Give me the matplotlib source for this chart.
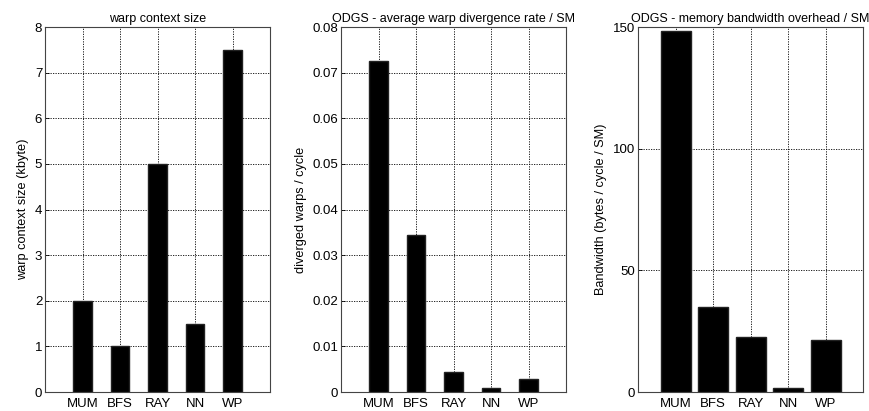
import numpy as np
import matplotlib
matplotlib.use("Agg")
import matplotlib.pyplot as plt

plt.rcParams["font.family"] = ["Liberation Sans", "DejaVu Sans"]

benchmarks = ["MUM", "BFS", "RAY", "NN", "WP"]
context_size = [2.0, 1.0, 5.0, 1.5, 7.5]
divergence_rate = [0.0725, 0.0344, 0.0044, 0.0008, 0.0029]
bandwidth = [148.5, 35.0, 22.7, 1.6, 21.3]

fig = plt.figure(figsize=(8.69, 4.11), dpi=100)

panels = [
    (0.0518, context_size, "warp context size", "warp context size (kbyte)",
     np.arange(0, 9, 1), [str(v) for v in range(9)], (0, 8), 0.5),
    (0.3924, divergence_rate, "ODGS - average warp divergence rate / SM", "diverged warps / cycle",
     np.arange(0, 0.081, 0.01), ["0", "0.01", "0.02", "0.03", "0.04", "0.05", "0.06", "0.07", "0.08"],
     (0, 0.08), 0.5),
    (0.7342, bandwidth, "ODGS - memory bandwidth overhead / SM", "Bandwidth (bytes / cycle / SM)",
     [0, 50, 100, 150], ["0", "50", "100", "150"], (0, 150), 0.8),
]

x = np.arange(1, 6)
for left, vals, title, ylabel, yt, ytl, ylim, w in panels:
    ax = fig.add_axes([left, 0.046, 0.259, 0.888])
    ax.bar(x, vals, width=w, color="black", edgecolor="#222222", zorder=3)
    ax.set_xlim(0, 6)
    ax.set_ylim(*ylim)
    ax.set_xticks(x)
    ax.set_xticklabels(benchmarks, fontsize=9.5)
    ax.set_yticks(yt)
    ax.set_yticklabels(ytl, fontsize=9.5)
    ax.tick_params(direction="in", length=3, width=0.6, pad=2)
    ax.tick_params(axis="x", pad=4)
    ax.grid(True, linestyle=(0, (1.5, 1.5)), color="black", linewidth=0.6, zorder=0)
    ax.set_title(title, fontsize=9, pad=4)
    ax.set_ylabel(ylabel, fontsize=9.2, labelpad=4)
    for s in ax.spines.values():
        s.set_linewidth(0.8)
        s.set_color("#444444")

fig.savefig("out.png", dpi=100)
